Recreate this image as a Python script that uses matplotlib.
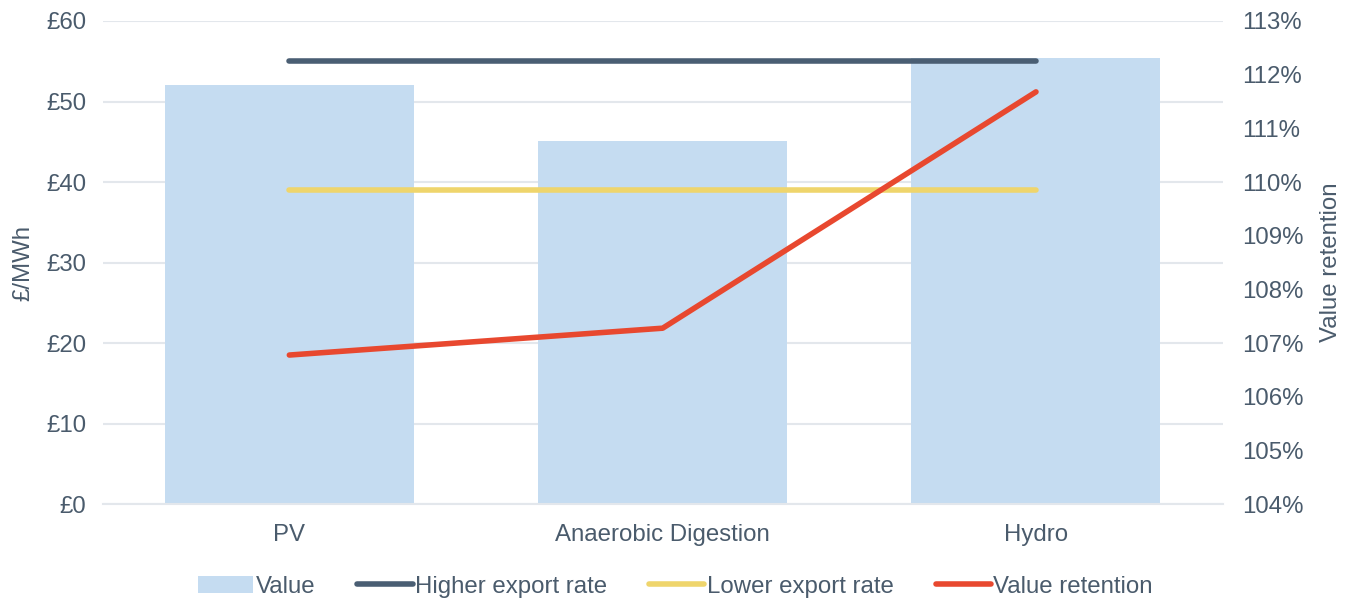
import numpy as np
import matplotlib
matplotlib.use('Agg')
import matplotlib.pyplot as plt

plt.rcParams['font.family'] = ['Liberation Sans', 'DejaVu Sans']

categories = ['PV', 'Anaerobic Digestion', 'Hydro']
value = [52.1, 45.1, 55.4]            # £/MWh
higher_rate = [55.0, 55.0, 55.0]
lower_rate = [39.0, 39.0, 39.0]
retention = [106.78, 107.28, 111.68]  # %

txt = '#4a5b6c'
fs = 17.3

fig, ax = plt.subplots(figsize=(13.51, 5.99), dpi=100)
fig.subplots_adjust(left=0.076, right=0.905, top=0.965, bottom=0.158)

x = np.arange(len(categories))
bars = ax.bar(x, value, width=0.667, color='#c5dcf1', label='Value', zorder=2)
hi, = ax.plot(x, higher_rate, color='#4a5e73', lw=4, solid_capstyle='round', label='Higher export rate', zorder=3)
lo, = ax.plot(x, lower_rate, color='#efd56c', lw=4, solid_capstyle='round', label='Lower export rate', zorder=3)

ax2 = ax.twinx()
ret, = ax2.plot(x, retention, color='#e8482f', lw=4, solid_capstyle='round', label='Value retention', zorder=4)

ax.set_xlim(-0.5, 2.5)
ax.set_ylim(0, 60)
ax.set_yticks(range(0, 61, 10))
ax.set_yticklabels([f'£{v}' for v in range(0, 61, 10)])
ax2.set_ylim(104, 113)
ax2.set_yticks(range(104, 114))
ax2.set_yticklabels([f'{v}%' for v in range(104, 114)])

ax.set_xticks(x)
ax.set_xticklabels(categories)
ax.yaxis.grid(True, color='#e3e7ec', lw=1.5, zorder=0)
ax.set_axisbelow(True)

for a in (ax, ax2):
    for s in a.spines.values():
        s.set_visible(False)
    a.tick_params(length=0, labelsize=fs, colors=txt)
ax.tick_params(axis='y', pad=12)
ax.tick_params(axis='x', pad=14)
ax2.tick_params(axis='y', pad=14)
ax.spines['bottom'].set_visible(True)
ax.spines['bottom'].set_color('#e3e7ec')
ax.spines['bottom'].set_linewidth(1.5)

ax.set_ylabel('£/MWh', fontsize=fs, color=txt, labelpad=8)
ax2.set_ylabel('Value retention', fontsize=fs, color=txt, labelpad=12)

fig.legend([bars, hi, lo, ret], ['Value', 'Higher export rate', 'Lower export rate', 'Value retention'],
           loc='lower center', bbox_to_anchor=(0.5, -0.034), ncol=4,
           frameon=False, fontsize=fs, labelcolor=txt, handlelength=2.3,
           handletextpad=0.1, columnspacing=1.75)

fig.savefig('out.png', dpi=100)
